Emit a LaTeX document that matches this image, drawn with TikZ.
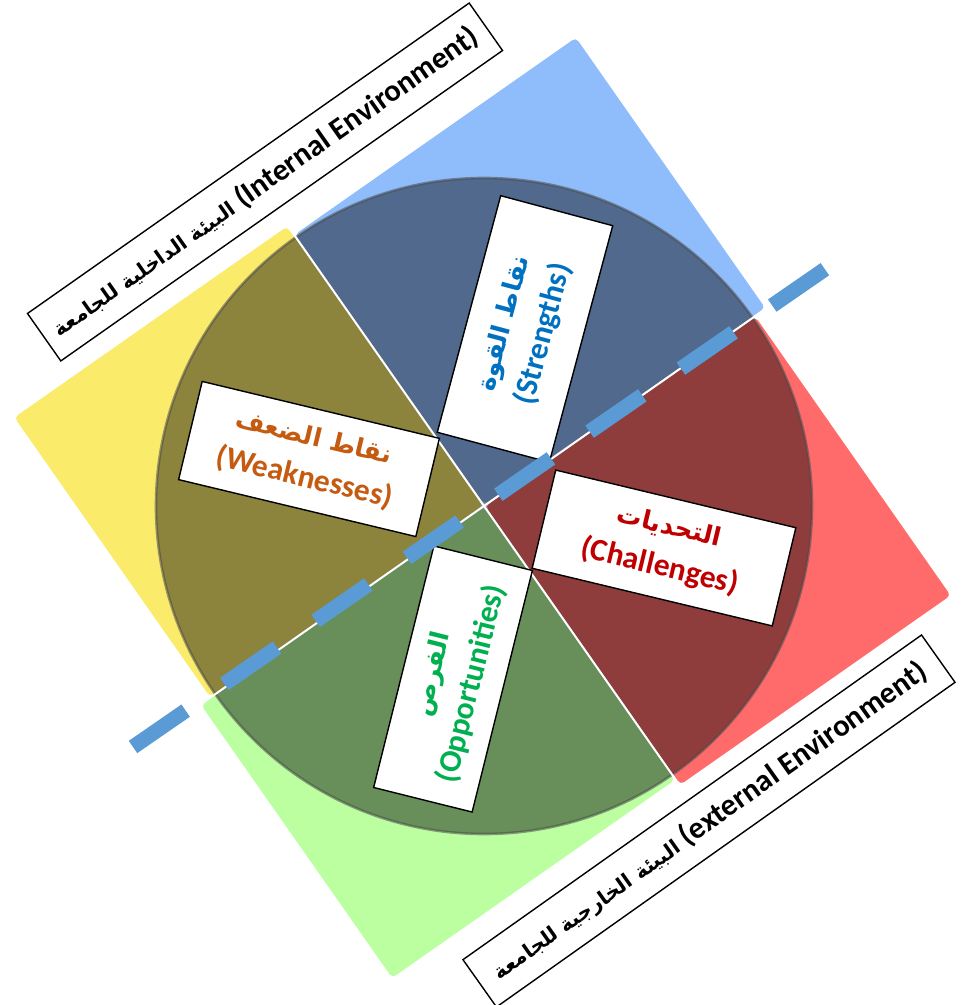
\documentclass[tikz,border=0pt]{standalone}
\usepackage{fontspec}
\setmainfont{Carlito}
\newfontfamily\arabicfont[Script=Arabic, Scale=0.8]{DejaVu Sans}
\newfontfamily\arabiclabel[Script=Arabic, Scale=0.66]{DejaVu Sans}
\TeXXeTstate=1
\usepackage{tikz}
\usetikzlibrary{positioning, calc}

\definecolor{quadblue}{HTML}{8FBCFB}
\definecolor{quadyellow}{HTML}{FBEB6B}
\definecolor{quadred}{HTML}{FF6B6B}
\definecolor{quadgreen}{HTML}{BBFFA0}
\definecolor{dashblue}{HTML}{5B9BD5}
\definecolor{strcol}{HTML}{0070C0}
\definecolor{weakcol}{HTML}{C55A11}
\definecolor{chalcol}{HTML}{C00000}
\definecolor{oppcol}{HTML}{00B050}

\newcommand{\artext}[1]{{\arabicfont\beginR #1\endR}}
\newcommand{\arlabel}[1]{{\arabiclabel\beginR #1\endR}}

\begin{document}
\begin{tikzpicture}[
    x=0.02cm, y=0.02cm,
    quad/.style={draw=white, line width=1.1pt, rounded corners=3pt},
    card/.style={draw=black, fill=white, line width=0.8pt, align=center,
        inner sep=2pt, font=\fontsize{18}{24}\selectfont\bfseries},
    envbox/.style={draw=black, fill=white, line width=0.8pt, minimum height=1.16cm,
        inner sep=2pt, font=\fontsize{17.5}{22}\selectfont\bfseries},
    splitline/.style={dashblue, line width=8.5pt, dash pattern=on 1.28cm off 0.94cm}
]
    \useasboundingbox (0,0) rectangle (963,1005);

    % centre of the wheel
    \coordinate (C) at (484,499);

    % === Quadrants ===
    \begin{scope}[shift={(C)}, rotate=35]
        \draw[quad, fill=quadblue] (0,0) rectangle (345,332);
        \draw[quad, fill=quadred] (0,0) rectangle (332,-342);
        \draw[quad, fill=quadyellow] (0,0) rectangle (-335,343);
        \draw[quad, fill=quadgreen] (0,0) rectangle (-347,-335);
    \end{scope}

    % dark disc over the quadrants
    \fill[black, fill opacity=0.44] (C) circle (328);
    \draw[black!70, draw opacity=0.55, line width=1.5pt] (C) circle (328);

    % white gaps between quadrants
    \begin{scope}[shift={(C)}, rotate=35]
        \draw[white, line width=1.1pt] (-330,0) -- (345,0);
        \draw[white, line width=1.1pt] (0,-340) -- (0,343);
    \end{scope}

    % === SWOT cards ===
    \node[card, rotate=75, minimum width=4.9cm, minimum height=2.32cm, text=strcol]
        (strengths) at (525,676) {\artext{نقاط القوة}\\(Strengths)};
    \node[card, rotate=-13.5, minimum width=4.88cm, minimum height=2.02cm, text=weakcol]
        (weaknesses) at (309,546) {\artext{نقاط الضعف}\\(Weaknesses)};
    \node[card, rotate=-13.5, minimum width=4.94cm, minimum height=2.02cm, text=chalcol]
        (challenges) at (664,457) {\artext{التحديات}\\(Challenges)};
    \node[card, rotate=76, minimum width=4.98cm, minimum height=2.03cm, text=oppcol]
        (opportunities) at (453,326) {\artext{الفرص}\\(Opportunities)};

    % === Environment labels ===
    \node[envbox, rotate=35.1, minimum width=10.8cm]
        (internal) at (265,823) {\arlabel{البيئة الداخلية للجامعة} (Internal Environment)};
    \node[envbox, rotate=35.3, minimum width=11.24cm]
        (external) at (709,184) {\arlabel{البيئة الخارجية للجامعة} (external Environment)};

    % dashed split between internal and external
    \coordinate (dashS) at (133,258);
    \coordinate (dashE) at (831,740);
    \draw[splitline] (dashS) -- (dashE);
\end{tikzpicture}
\end{document}
